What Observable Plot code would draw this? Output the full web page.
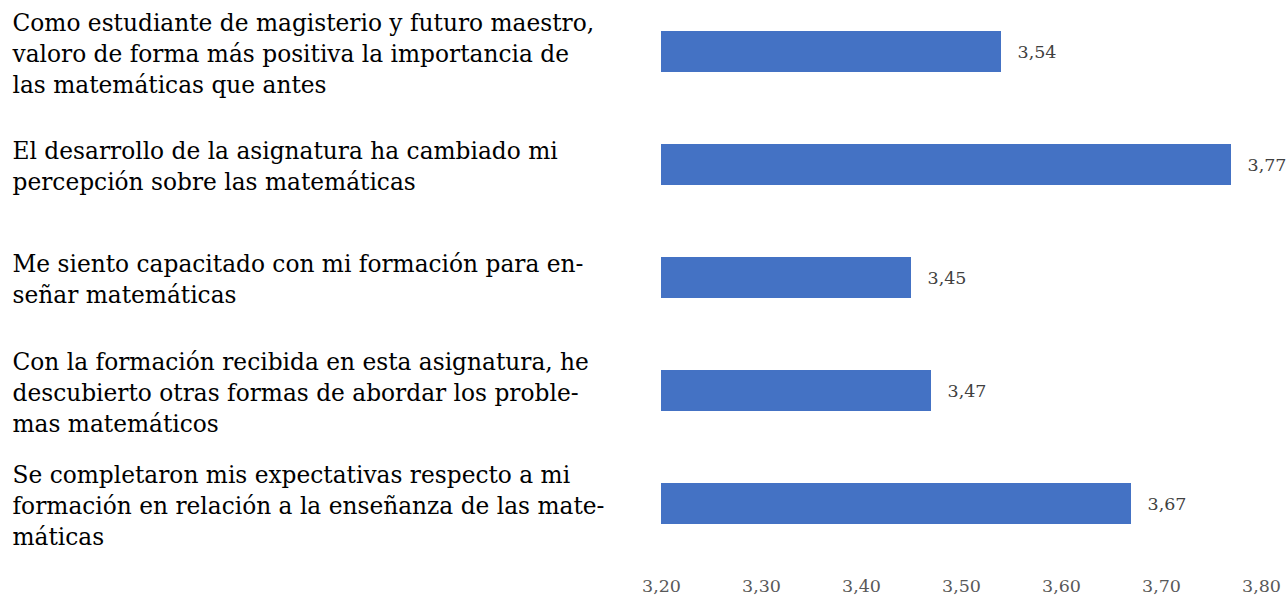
<!DOCTYPE html>
<html>
<head>
<meta charset="utf-8">
<script src="https://cdn.jsdelivr.net/npm/d3@7"></script>
<script src="https://cdn.jsdelivr.net/npm/@observablehq/plot@0.6"></script>
<style>
  html, body { margin: 0; padding: 0; background: #fff; }
  #chart svg { display: block; }
</style>
</head>
<body>
<div id="chart"></div>
<script>
const categories = [
  "Como estudiante de magisterio y futuro maestro,\nvaloro de forma más positiva la importancia de\nlas matemáticas que antes",
  "El desarrollo de la asignatura ha cambiado mi\npercepción sobre las matemáticas",
  "Me siento capacitado con mi formación para en-\nseñar matemáticas",
  "Con la formación recibida en esta asignatura, he\ndescubierto otras formas de abordar los proble-\nmas matemáticos",
  "Se completaron mis expectativas respecto a mi\nformación en relación a la enseñanza de las mate-\nmáticas"
];
const values = [3.54, 3.77, 3.45, 3.47, 3.67];
const xTicks = [3.2, 3.3, 3.4, 3.5, 3.6, 3.7, 3.8];

const data = categories.map((c, i) => ({cat: c, value: values[i]}));
const fmt = v => d3.format(".2f")(v).replace(".", ",");
const serif = "'DejaVu Serif', 'Liberation Serif', serif";

const chart = Plot.plot({
  width: 1287,
  height: 599,
  marginLeft: 661,
  marginRight: 26,
  marginTop: 0,
  marginBottom: 45,
  style: {fontFamily: serif, background: "#fff"},
  x: {domain: [3.2, 3.8], ticks: xTicks, tickFormat: fmt, label: null},
  y: {domain: categories, paddingInner: 0.64, paddingOuter: 0.25, axis: null},
  marks: [
    Plot.barX(data, {x1: 3.2, x2: "value", y: "cat", fill: "#4472C4"}),
    Plot.text(data, {
      x: "value", y: "cat", text: d => fmt(d.value),
      textAnchor: "start", dx: 16, fill: "#404040", fontSize: 17.5
    }),
    Plot.text(data, {
      y: "cat", text: "cat", frameAnchor: "left", dx: -649,
      textAnchor: "start", lineAnchor: "middle", lineHeight: 1.33,
      fontSize: 23.3, fill: "#000"
    }),
    Plot.axisX({
      ticks: xTicks, tickFormat: fmt, tickSize: 0, tickPadding: 25,
      fontSize: 17.5, fill: "#595959", label: null
    })
  ]
});
document.getElementById("chart").append(chart);
</script>
</body>
</html>
